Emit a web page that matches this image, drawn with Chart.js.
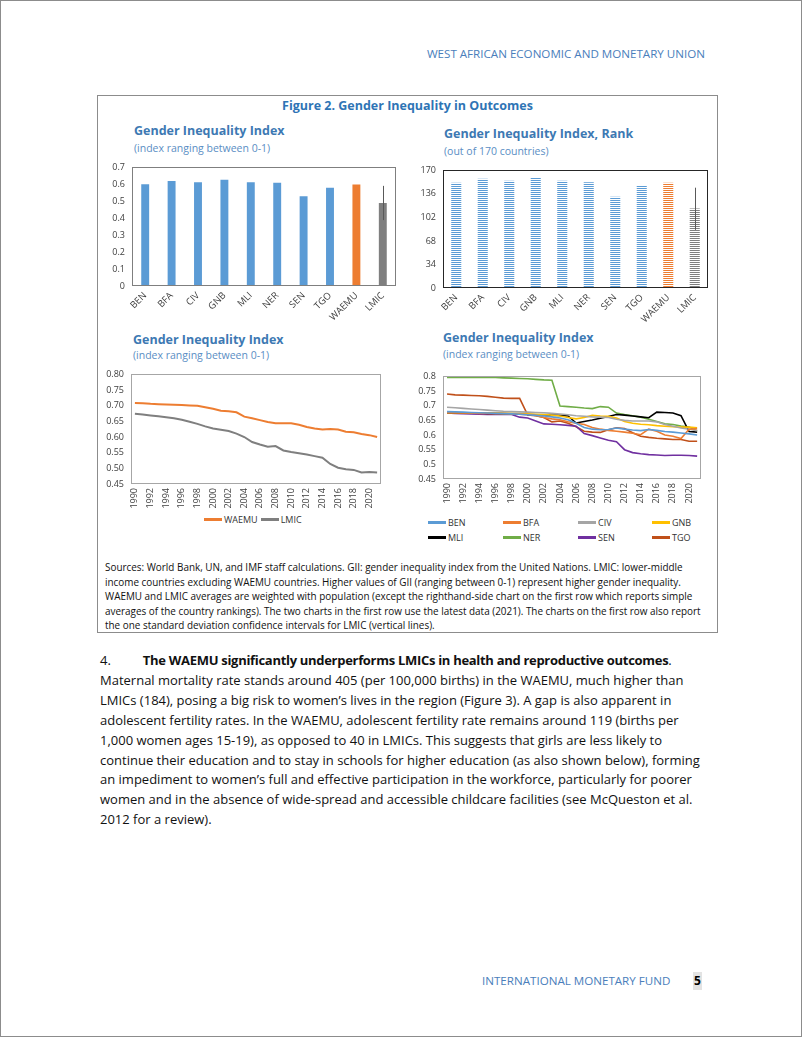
<!DOCTYPE html>
<html>
<head>
<meta charset="utf-8">
<script src="https://cdn.jsdelivr.net/npm/chart.js@4.4.0/dist/chart.umd.min.js"></script>
<style>
  body { margin: 0; width: 802px; height: 1037px; position: relative; overflow: hidden; background: #fff; font-family: 'Open Sans', sans-serif; }
  .page { position: absolute; left: 0; top: 0; width: 800px; height: 1035px; border: 1px solid #8c8c8c; }
  .abs { position: absolute; white-space: nowrap; }
  .hdr { right: 97px; top: 46px; font-size: 11.6px; line-height: 16px; color: #4a7ebb; }
  .figbox { left: 97px; top: 95px; width: 619px; height: 536px; border: 1px solid #8c8c8c; }
  .figtitle { left: 97px; width: 621px; top: 98px; text-align: center; font-weight: 700; font-size: 12.5px; line-height: 16px; color: #2e74b5; }
  .ctitle { font-weight: 700; font-size: 12.5px; line-height: 16px; color: #3d79b3; }
  .csub { font-size: 10.5px; line-height: 14px; color: #5a8ec4; }
  canvas { position: absolute; }
  .legend { position: absolute; font-size: 9px; color: #333; }
  .legend ul { list-style: none; margin: 0; padding: 0; }
  .legend li { display: flex; align-items: center; height: 15px; }
  .legend .sw { display: inline-block; width: 18px; height: 2.5px; margin-right: 2px; }
  .note { left: 105px; top: 560px; font-size: 10.5px; line-height: 14.5px; color: #111; }
  .body { left: 100px; top: 651px; font-size: 13.5px; line-height: 19.9px; color: #111; }
  .body b { letter-spacing: -0.3px; }
  .foot { left: 482px; top: 973px; font-size: 11.6px; line-height: 16px; color: #4a7ebb; }
  .pnum { left: 693px; top: 972px; width: 9px; height: 18px; background: #e3e3e3; font-weight: 700; font-size: 12px; line-height: 18px; text-align: center; color: #000; }
</style>
</head>
<body>
<div class="page"></div>
<div class="abs hdr">WEST AFRICAN ECONOMIC AND MONETARY UNION</div>

<div class="abs figbox"></div>
<div class="abs figtitle">Figure 2. Gender Inequality in Outcomes</div>

<div class="abs ctitle" style="left:134px;top:123px">Gender Inequality Index</div>
<div class="abs csub" style="left:134px;top:141px">(index ranging between 0-1)</div>
<div class="abs ctitle" style="left:444px;top:126px">Gender Inequality Index, Rank</div>
<div class="abs csub" style="left:444px;top:144px">(out of 170 countries)</div>
<div class="abs ctitle" style="left:133px;top:332px">Gender Inequality Index</div>
<div class="abs csub" style="left:133px;top:348px">(index ranging between 0-1)</div>
<div class="abs ctitle" style="left:443px;top:330px">Gender Inequality Index</div>
<div class="abs csub" style="left:443px;top:347px">(index ranging between 0-1)</div>

<canvas id="gii-bar" width="300" height="175" style="left:100px;top:155px"></canvas>
<canvas id="rank-bar" width="302" height="175" style="left:410px;top:158px"></canvas>
<canvas id="gii-agg" width="292" height="150" style="left:100px;top:362px"></canvas>
<canvas id="gii-cty" width="302" height="150" style="left:410px;top:364px"></canvas>
<div class="legend" id="gii-agg-legend" style="left:204px;top:512px"><ul style="display:flex;gap:3px"></ul></div>
<div class="legend" id="gii-cty-legend" style="left:428px;top:515px"><ul style="display:grid;grid-template-columns:75px 75px 74px 60px"></ul></div>

<div class="abs note" id="note">Sources: World Bank, UN, and IMF staff calculations. GII: gender inequality index from the United Nations. LMIC: lower-middle<br>income countries excluding WAEMU countries. Higher values of GII (ranging between 0-1) represent higher gender inequality.<br>WAEMU and LMIC averages are weighted with population (except the righthand-side chart on the first row which reports simple<br>averages of the country rankings). The two charts in the first row use the latest data (2021). The charts on the first row also report<br>the one standard deviation confidence intervals for LMIC (vertical lines).</div>

<div class="abs body" id="body">4.<span style="display:inline-block;width:32px"></span><b>The WAEMU significantly underperforms LMICs in health and reproductive outcomes</b>.<br>Maternal mortality rate stands around 405 (per 100,000 births) in the WAEMU, much higher than<br>LMICs (184), posing a big risk to women’s lives in the region (Figure 3). A gap is also apparent in<br>adolescent fertility rates. In the WAEMU, adolescent fertility rate remains around 119 (births per<br>1,000 women ages 15-19), as opposed to 40 in LMICs. This suggests that girls are less likely to<br><span id="widest">continue their education and to stay in schools for higher education (as also shown below), forming</span><br>an impediment to women’s full and effective participation in the workforce, particularly for poorer<br>women and in the absence of wide-spread and accessible childcare facilities (see McQueston et al.<br>2012 for a review).</div>

<div class="abs foot">INTERNATIONAL MONETARY FUND</div>
<div class="abs pnum">5</div>

<script>
// ---- data ----
const barCats = ['BEN', 'BFA', 'CIV', 'GNB', 'MLI', 'NER', 'SEN', 'TGO', 'WAEMU', 'LMIC'];
const giiLatest = [0.601, 0.619, 0.612, 0.627, 0.612, 0.610, 0.529, 0.580, 0.599, 0.490];
const giiLmicBand = [0.389, 0.591];
const giiTicks = [0, 0.1, 0.2, 0.3, 0.4, 0.5, 0.6, 0.7];

const giiRank = [152, 158, 155, 159, 155, 153, 132, 148, 152, 115];
const rankLmicBand = [84, 145];
const rankTicks = [0, 34, 68, 102, 136, 170];

const years = ['1990', '1991', '1992', '1993', '1994', '1995', '1996', '1997', '1998', '1999',
  '2000', '2001', '2002', '2003', '2004', '2005', '2006', '2007', '2008', '2009',
  '2010', '2011', '2012', '2013', '2014', '2015', '2016', '2017', '2018', '2019',
  '2020', '2021'];
const lineTicks = [0.45, 0.5, 0.55, 0.6, 0.65, 0.7, 0.75, 0.8];

const waemuGii = [0.709, 0.708, 0.706, 0.705, 0.704, 0.703, 0.702, 0.701, 0.700, 0.695,
  0.690, 0.684, 0.682, 0.679, 0.665, 0.660, 0.654, 0.648, 0.644, 0.644,
  0.644, 0.639, 0.632, 0.627, 0.624, 0.626, 0.624, 0.617, 0.615, 0.610,
  0.606, 0.600];
const lmicGii = [0.674, 0.672, 0.669, 0.666, 0.663, 0.660, 0.655, 0.649, 0.642, 0.634,
  0.627, 0.623, 0.619, 0.611, 0.600, 0.584, 0.576, 0.569, 0.571, 0.557,
  0.552, 0.548, 0.544, 0.539, 0.534, 0.514, 0.502, 0.497, 0.495, 0.487,
  0.488, 0.487];

const benGii = [0.680, 0.679, 0.678, 0.677, 0.676, 0.675, 0.674, 0.673, 0.672, 0.671,
  0.669, 0.667, 0.665, 0.662, 0.658, 0.652, 0.640, 0.626, 0.620, 0.618,
  0.619, 0.624, 0.620, 0.617, 0.615, 0.619, 0.616, 0.612, 0.610, 0.607,
  0.604, 0.600];
const bfaGii = [0.676, 0.676, 0.675, 0.675, 0.674, 0.674, 0.673, 0.673, 0.672, 0.671,
  0.670, 0.667, 0.660, 0.655, 0.652, 0.645, 0.640, 0.636, 0.626, 0.620,
  0.616, 0.613, 0.610, 0.606, 0.601, 0.620, 0.613, 0.600, 0.596, 0.588,
  0.620, 0.622];
const civGii = [0.695, 0.693, 0.691, 0.689, 0.687, 0.685, 0.683, 0.681, 0.680, 0.679,
  0.678, 0.677, 0.676, 0.674, 0.672, 0.669, 0.666, 0.664, 0.662, 0.661,
  0.660, 0.654, 0.650, 0.648, 0.648, 0.648, 0.645, 0.636, 0.630, 0.624,
  0.620, 0.615];
const gnbGii = [0.676, 0.676, 0.676, 0.675, 0.675, 0.675, 0.675, 0.674, 0.674, 0.673,
  0.672, 0.671, 0.670, 0.668, 0.665, 0.660, 0.655, 0.660, 0.667, 0.665,
  0.664, 0.658, 0.646, 0.640, 0.637, 0.635, 0.632, 0.630, 0.628, 0.627,
  0.627, 0.625];
const mliGii = [0.676, 0.676, 0.675, 0.675, 0.675, 0.674, 0.674, 0.673, 0.672, 0.671,
  0.670, 0.669, 0.669, 0.668, 0.667, 0.665, 0.641, 0.646, 0.651, 0.657,
  0.663, 0.670, 0.668, 0.665, 0.662, 0.659, 0.678, 0.677, 0.675, 0.666,
  0.612, 0.610];
const nerGii = [0.796, 0.796, 0.796, 0.796, 0.796, 0.796, 0.796, 0.795, 0.794, 0.793,
  0.792, 0.790, 0.788, 0.787, 0.699, 0.697, 0.695, 0.692, 0.690, 0.697,
  0.695, 0.675, 0.670, 0.666, 0.661, 0.654, 0.646, 0.638, 0.636, 0.631,
  0.627, 0.614];
const senGii = [0.675, 0.674, 0.673, 0.672, 0.671, 0.670, 0.670, 0.670, 0.670, 0.661,
  0.658, 0.648, 0.638, 0.637, 0.635, 0.633, 0.630, 0.605, 0.598, 0.590,
  0.582, 0.577, 0.550, 0.540, 0.536, 0.533, 0.532, 0.530, 0.531, 0.531,
  0.530, 0.528];
const tgoGii = [0.740, 0.737, 0.736, 0.735, 0.734, 0.732, 0.729, 0.726, 0.725, 0.725,
  0.668, 0.666, 0.660, 0.645, 0.648, 0.640, 0.628, 0.613, 0.610, 0.609,
  0.618, 0.625, 0.622, 0.608, 0.596, 0.592, 0.589, 0.587, 0.585, 0.585,
  0.579, 0.579];

// ---- colours ----
const blue = '#5b9bd5', orange = '#ed7d31', gray = '#7f7f7f';
const barColors = barCats.map(c => c === 'WAEMU' ? orange : (c === 'LMIC' ? gray : blue));

const fontTick = { family: "'Open Sans', sans-serif", size: 9 };
const fontCat = { family: "'Open Sans', sans-serif", size: 9.5 };

// stripes for the rank chart
const stripes = (color) => {
  const c = document.createElement('canvas');
  c.width = 4; c.height = 2;
  const x = c.getContext('2d');
  x.fillStyle = color;
  x.fillRect(0, 0, 4, 1);
  return x.createPattern(c, 'repeat');
};

// plot area frame
const plotBorder = {
  id: 'plotBorder',
  afterDraw(c, args, opts) {
    const { ctx, chartArea: a } = c;
    ctx.save();
    ctx.strokeStyle = opts.color || '#888';
    ctx.lineWidth = 1;
    ctx.strokeRect(Math.round(a.left) + 0.5, Math.round(a.top) + 0.5, Math.round(a.width) - 1, Math.round(a.height) - 1);
    ctx.restore();
  },
};

// one std dev band for LMIC
const errorBar = {
  id: 'errorBar',
  afterDatasetsDraw(c, args, opts) {
    if (!opts.band) return;
    const { ctx } = c;
    const x = Math.round(c.scales.x.getPixelForValue(opts.index)) + 0.5;
    ctx.save();
    ctx.strokeStyle = '#595959';
    ctx.lineWidth = 1;
    ctx.beginPath();
    ctx.moveTo(x, c.scales.y.getPixelForValue(opts.band[0]));
    ctx.lineTo(x, c.scales.y.getPixelForValue(opts.band[1]));
    ctx.stroke();
    ctx.restore();
  },
};

// html legend, one item per dataset
const htmlLegend = (chart, id) => {
  const ul = document.querySelector('#' + id + ' ul');
  chart.data.datasets.forEach((ds) => {
    const li = document.createElement('li');
    const sw = document.createElement('span');
    sw.className = 'sw';
    sw.style.background = ds.borderColor;
    li.appendChild(sw);
    li.appendChild(document.createTextNode(ds.label));
    ul.appendChild(li);
  });
};

const yAxis = (ticks, width, fmt) => ({
  min: ticks[0],
  max: ticks[ticks.length - 1],
  afterBuildTicks: (s) => { s.ticks = ticks.map(v => ({ value: v })); },
  afterFit: (s) => { s.width = width; },
  grid: { display: false, drawTicks: false },
  border: { display: false },
  ticks: { font: fontTick, color: '#404040', padding: 7, callback: fmt },
});

const xCat = (height, rot, cb, font) => ({
  offset: true,
  afterFit: (s) => { s.height = height; },
  grid: { display: false, drawTicks: false },
  border: { display: false },
  ticks: {
    font: font || fontTick, color: '#404040', padding: 4,
    minRotation: rot, maxRotation: rot, autoSkip: false,
    callback: cb,
  },
});

const baseOpts = {
  responsive: false,
  animation: false,
  events: [],
};

// ---- chart 1: latest GII ----
new Chart(document.getElementById('gii-bar'), {
  type: 'bar',
  data: {
    labels: barCats,
    datasets: [{ data: giiLatest, backgroundColor: barColors, barPercentage: 0.3, categoryPercentage: 1 }],
  },
  options: {
    ...baseOpts,
    layout: { padding: { top: 6, right: 4, left: 0, bottom: 0 } },
    scales: {
      y: yAxis(giiTicks, 32, v => String(v)),
      x: xCat(44, 45, function (v, i) { return barCats[i]; }, fontCat),
    },
    plugins: {
      legend: { display: false },
      tooltip: { enabled: false },
      plotBorder: { color: '#7f7f7f' },
      errorBar: { index: 9, band: giiLmicBand },
    },
  },
  plugins: [plotBorder, errorBar],
});

// ---- chart 2: GII rank ----
new Chart(document.getElementById('rank-bar'), {
  type: 'bar',
  data: {
    labels: barCats,
    datasets: [{
      data: giiRank,
      backgroundColor: barColors.map(stripes),
      barPercentage: 0.38, categoryPercentage: 1,
    }],
  },
  options: {
    ...baseOpts,
    layout: { padding: { top: 5, right: 4, left: 0, bottom: 0 } },
    scales: {
      y: yAxis(rankTicks, 33, v => String(v)),
      x: xCat(45, 45, function (v, i) { return barCats[i]; }, fontCat),
    },
    plugins: {
      legend: { display: false },
      tooltip: { enabled: false },
      plotBorder: { color: '#262626' },
      errorBar: { index: 9, band: rankLmicBand },
    },
  },
  plugins: [plotBorder, errorBar],
});

// ---- chart 3: WAEMU vs LMIC over time ----
const evenYear = function (v, i) { return i % 2 === 0 ? years[i] : ''; };

const aggChart = new Chart(document.getElementById('gii-agg'), {
  type: 'line',
  data: {
    labels: years,
    datasets: [
      { label: 'WAEMU', data: waemuGii, borderColor: orange, borderWidth: 2, pointRadius: 0 },
      { label: 'LMIC', data: lmicGii, borderColor: gray, borderWidth: 2, pointRadius: 0 },
    ],
  },
  options: {
    ...baseOpts,
    layout: { padding: { top: 5, right: 5, left: 0, bottom: 0 } },
    scales: {
      y: yAxis(lineTicks, 31, v => v.toFixed(2)),
      x: xCat(28, 90, evenYear),
    },
    plugins: {
      legend: { display: false },
      tooltip: { enabled: false },
      plotBorder: { color: '#a6a6a6' },
    },
  },
  plugins: [plotBorder],
});
htmlLegend(aggChart, 'gii-agg-legend');

// ---- chart 4: countries over time ----
const ctyChart = new Chart(document.getElementById('gii-cty'), {
  type: 'line',
  data: {
    labels: years,
    datasets: [
      { label: 'BEN', data: benGii, borderColor: '#5b9bd5' },
      { label: 'BFA', data: bfaGii, borderColor: '#ed7d31' },
      { label: 'CIV', data: civGii, borderColor: '#a5a5a5' },
      { label: 'GNB', data: gnbGii, borderColor: '#ffc000' },
      { label: 'MLI', data: mliGii, borderColor: '#000000' },
      { label: 'NER', data: nerGii, borderColor: '#70ad47' },
      { label: 'SEN', data: senGii, borderColor: '#7030a0' },
      { label: 'TGO', data: tgoGii, borderColor: '#c0501a' },
    ].map(ds => ({ ...ds, borderWidth: 1.6, pointRadius: 0 })),
  },
  options: {
    ...baseOpts,
    layout: { padding: { top: 5, right: 4, left: 0, bottom: 0 } },
    scales: {
      y: yAxis(lineTicks, 33, v => String(v)),
      x: xCat(35, 90, evenYear),
    },
    plugins: {
      legend: { display: false },
      tooltip: { enabled: false },
      plotBorder: { color: '#a6a6a6' },
    },
  },
  plugins: [plotBorder],
});
htmlLegend(ctyChart, 'gii-cty-legend');

// fit running text widths to the page
const fitText = (el, ref, target) => {
  const size = parseFloat(getComputedStyle(el).fontSize);
  el.style.fontSize = (size * target / ref.getBoundingClientRect().width) + 'px';
};
const noteRef = document.createElement('span');
noteRef.textContent = 'Sources: World Bank, UN, and IMF staff calculations. GII: gender inequality index from the United Nations. LMIC: lower-middle';
noteRef.style.cssText = 'position:absolute;visibility:hidden;white-space:nowrap;font-family:inherit;';
const note = document.getElementById('note');
noteRef.style.fontSize = getComputedStyle(note).fontSize;
document.body.appendChild(noteRef);
fitText(note, noteRef, 578);
noteRef.remove();
fitText(document.getElementById('body'), document.getElementById('widest'), 600);
</script>
</body>
</html>
